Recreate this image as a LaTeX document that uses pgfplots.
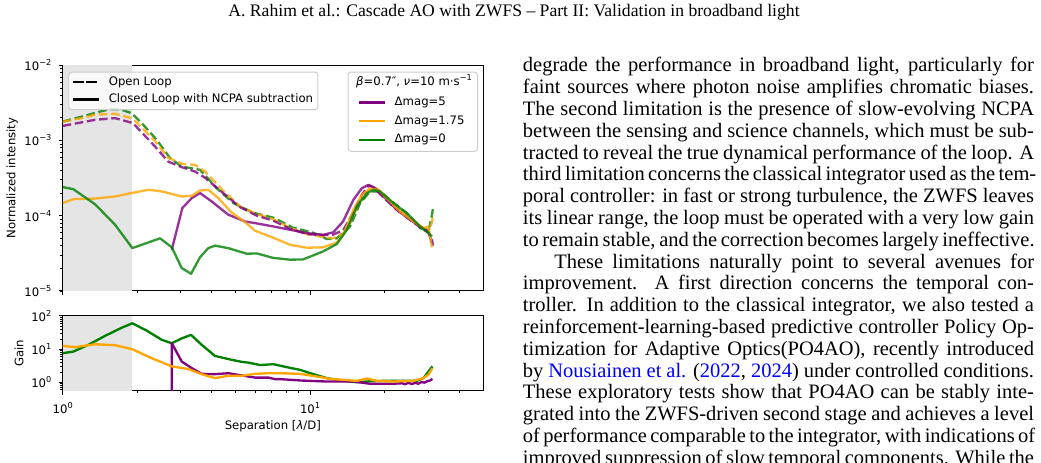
\documentclass[border=0pt]{standalone}
\usepackage{fontspec}
\setmainfont{Liberation Serif}
\newfontfamily\plotfont{DejaVu Sans}
\usepackage{pgfplots}
\pgfplotsset{compat=1.18}

\definecolor{mplpurple}{HTML}{800080}
\definecolor{mplorange}{HTML}{FFA500}
\definecolor{mplgreen}{HTML}{008000}
\definecolor{shade}{HTML}{E5E5E5}
\definecolor{legframe}{HTML}{CCCCCC}
\definecolor{linkblue}{HTML}{0000FF}

% page position helper: (x, y) measured from the top-left corner, 0.488pt per unit
\newcommand{\pp}[2]{({#1*0.488pt},{(463-#2)*0.488pt})}
\newcommand{\pf}{\plotfont\fontsize{5.7}{6.8}\selectfont}
\newcommand{\sups}[1]{\raisebox{2.5pt}{\fontsize{4}{4}\selectfont #1}}
\newcommand{\ten}[1]{10\sups{#1}}
\newcommand{\colw}{249.4pt}

\tikzset{
  curve/.style={line width=1.14pt, line join=round},
  ol/.style={line width=1.14pt, line join=round, dash pattern=on 4.2pt off 1.8pt},
}

\begin{document}
\begin{tikzpicture}
\useasboundingbox (0,0) rectangle (508pt,225.9pt);

% running head
\node[anchor=base,inner sep=0pt] at \pp{514}{17} {\fontsize{8.6}{10}\selectfont A. Rahim et al.: Cascade AO with ZWFS – Part II: Validation in broadband light};

% ---------------- upper panel: normalized intensity ----------------
\begin{axis}[
  scale only axis, width=205.1pt, height=110.14pt,
  at={(30.6pt,194.08pt)}, anchor=north west,
  xmode=log, ymode=log, xmin=1, xmax=50, ymin=1e-5, ymax=1e-2,
  axis line style={line width=0.46pt},
  tick align=outside, xtick pos=bottom, ytick pos=left,
  major tick length=2pt, minor tick length=1.15pt,
  every tick/.style={line width=0.46pt, black},
  every minor tick/.style={line width=0.34pt, black},
  xtick={1,10}, minor xtick={2,3,4,5,6,7,8,9,20,30,40},
  ytick={1e-5,1e-4,1e-3,1e-2},
  yticklabels={\ten{−5},\ten{−4},\ten{−3},\ten{−2}},
  minor ytick={},
  xticklabels={{},{}},
  tick label style={font=\pf},
  ylabel={Normalized intensity},
  ylabel style={font=\pf, at={(rel axis cs:0,0.5)}, anchor=center, yshift=24.7pt},
  legend cell align=left,
  legend image code/.code={\draw[#1, line cap=rect] (0pt,0pt) -- (11.4pt,0pt);},
  legend style={font=\pf, draw=legframe, line width=0.46pt, rounded corners=1.5pt,
    fill=white, fill opacity=0.8, text opacity=1,
    inner xsep=2.3pt, inner ysep=2.2pt, row sep=2.95pt, column sep=4.7pt,
    nodes={inner sep=0pt, text height=4.3pt, text depth=1.2pt},
    at={(0.0133,0.9716)}, anchor=north west},
]
\addplot[fill=shade, draw=none, forget plot] coordinates {(1,1e-5) (1.9,1e-5) (1.9,1e-2) (1,1e-2)};

% open loop (dashed)
\addplot[ol, mplgreen, opacity=0.8, forget plot] coordinates {
(1.0,1.78e-3) (1.211,2.1e-3) (1.415,2.42e-3) (1.553,2.6e-3) (1.705,2.6e-3)
(1.901,2.3e-3) (2.118,1.61e-3) (2.399,1.02e-3) (2.716,5.82e-4) (3.029,4.5e-4)
(3.591,4.07e-4) (4.195,2.32e-4) (4.896,1.47e-4) (5.898,1.09e-4) (7.106,9.4e-5)
(8.561,6.9e-5) (10.31,5.93e-5) (11.68,4.9e-5) (12.82,5.0e-5) (14.52,7.19e-5)
(15.93,1.47e-4) (17.48,2.1e-4) (19.19,2.1e-4) (21.4,1.544e-4) (24.6,1.08e-4)
(27.85,6.84e-5) (30.1,6.2e-5) (31.06,1.0e-4) (31.4,1.27e-4)};
\addplot[ol, mplorange, opacity=0.8, forget plot] coordinates {
(1.0,1.77e-3) (1.211,2.0e-3) (1.351,2.2e-3) (1.627,2.26e-3) (1.924,1.95e-3)
(2.362,9.8e-4) (2.666,5.9e-4) (3.029,4.9e-4) (3.427,4.74e-4) (3.762,3.86e-4)
(4.448,2.15e-4) (5.212,1.33e-4) (6.089,1.05e-4) (7.086,9.0e-5) (8.3,6.9e-5)
(9.698,5.7e-5) (11.29,5.2e-5) (12.39,5.0e-5) (13.6,5.8e-5) (14.52,8.0e-5)
(15.93,1.6e-4) (17.48,2.25e-4) (18.6,2.3e-4) (20.4,1.75e-4) (23.1,1.2e-4)
(26.2,8.4e-5) (28.7,6.8e-5) (30.1,6.4e-5) (31.06,8.0e-5) (31.4,1.0e-4)};
\addplot[ol, mplpurple, opacity=0.8, forget plot] coordinates {
(1.0,1.56e-3) (1.351,1.88e-3) (1.627,1.98e-3) (1.924,1.70e-3) (2.362,8.3e-4)
(2.666,5.25e-4) (3.029,4.42e-4) (3.427,3.86e-4) (3.762,3.19e-4) (4.448,2.0e-4)
(5.212,1.3e-4) (6.089,1.0e-4) (7.086,8.6e-5) (8.3,6.7e-5) (9.698,5.7e-5)
(11.29,5.5e-5) (12.39,5.6e-5) (13.6,6.4e-5) (14.97,1.1e-4) (16.19,1.9e-4)
(17.21,2.5e-4) (18.0,2.4e-4) (19.79,1.75e-4) (22.4,1.2e-4) (25.4,8.8e-5)
(27.85,7.0e-5) (30.1,5.9e-5) (31.06,4.8e-5) (31.4,4.0e-5)};

% closed loop with NCPA subtraction (solid)
\addplot[curve, mplpurple, opacity=0.8, forget plot] coordinates {
(2.760,3.52e-5) (3.045,1.262e-4) (3.324,1.713e-4) (3.591,2.0e-4) (4.004,1.544e-4)
(4.673,1.03e-4) (5.46,8.37e-5) (5.994,7.97e-5) (7.086,7.2e-5) (8.3,6.5e-5)
(9.698,5.87e-5) (11.29,5.57e-5) (12.4,6.0e-5) (13.6,8.4e-5) (14.97,1.63e-4)
(16.19,2.32e-4) (17.21,2.57e-4) (18.32,2.32e-4) (19.79,1.8e-4) (22.42,1.2e-4)
(25.37,8.8e-5) (27.85,7.2e-5) (30.1,6.17e-5) (31.06,4.33e-5)};
\addplot[curve, mplorange, opacity=0.8, forget plot] coordinates {
(1.0,1.47e-4) (1.104,1.66e-4) (1.351,1.69e-4) (1.627,1.80e-4) (1.901,2.0e-4)
(2.219,2.21e-4) (2.514,2.10e-4) (3.029,1.80e-4) (3.324,1.84e-4) (3.591,2.16e-4)
(3.88,2.21e-4) (4.258,1.71e-4) (4.823,1.1e-4) (5.46,8.2e-5) (5.994,6.3e-5)
(7.086,5.1e-5) (8.3,4.1e-5) (9.698,3.75e-5) (11.29,3.8e-5) (12.82,4.4e-5)
(13.62,5.6e-5) (14.97,1.2e-4) (16.19,1.9e-4) (17.48,2.3e-4) (18.89,2.2e-4)
(20.43,1.7e-4) (23.12,1.13e-4) (26.16,8.4e-5) (28.72,6.8e-5) (30.1,7.2e-5)
(31.06,3.8e-5)};
\addplot[curve, mplgreen, opacity=0.8, forget plot] coordinates {
(1.0,2.4e-4) (1.104,2.25e-4) (1.351,1.42e-4) (1.627,7.6e-5) (1.912,3.71e-5)
(2.475,5.0e-5) (2.760,3.8e-5) (3.029,2.01e-5) (3.303,1.69e-5) (3.591,2.8e-5)
(3.88,3.71e-5) (4.129,4.0e-5) (4.673,3.7e-5) (5.546,3.12e-5) (6.089,3.15e-5)
(7.086,2.75e-5) (8.3,2.6e-5) (9.37,2.62e-5) (11.29,3.35e-5) (12.82,4.2e-5)
(14.08,6.5e-5) (15.45,1.33e-4) (16.96,2.0e-4) (18.03,2.21e-4) (19.19,2.10e-4)
(21.72,1.47e-4) (24.6,1.08e-4) (27.85,7.2e-5) (29.65,6.17e-5) (31.06,5.3e-5)};

\addlegendimage{ol, black}
\addlegendentry{Open Loop}
\addlegendimage{curve, black}
\addlegendentry{Closed Loop with NCPA subtraction}
\end{axis}

% second legend of the upper panel (colour key; its first row holds the title)
\begin{axis}[
  scale only axis, width=205.1pt, height=110.14pt,
  at={(30.6pt,194.08pt)}, anchor=north west,
  xmode=log, ymode=log, xmin=1, xmax=50, ymin=1e-5, ymax=1e-2,
  hide axis,
  legend cell align=left,
  legend image code/.code={\draw[#1, line cap=rect] (0pt,0pt) -- (11.4pt,0pt);},
  legend style={font=\pf, draw=legframe, line width=0.46pt, rounded corners=1.5pt,
    fill=white, fill opacity=0.8, text opacity=1,
    inner xsep=5.5pt, inner ysep=2.95pt, row sep=3.6pt, column sep=4.7pt,
    nodes={inner sep=0pt, text height=4.3pt, text depth=1.2pt},
    at={(0.9881,0.9716)}, anchor=north east},
]
\addlegendimage{empty legend}
\addlegendentry{\rule{34.9pt}{0pt}}
\addlegendimage{curve, mplpurple}
\addlegendentry{Δmag=5}
\addlegendimage{curve, mplorange}
\addlegendentry{Δmag=1.75}
\addlegendimage{curve, mplgreen}
\addlegendentry{Δmag=0}
\end{axis}
\node[anchor=base west, inner sep=0pt, font=\pf] at \pp{355.7}{86}
  {\textit{β}=0.7″, \textit{ν}=10 m·s\sups{−1}};

% ---------------- lower panel: gain ----------------
\begin{axis}[
  scale only axis, width=205.1pt, height=36.6pt,
  at={(30.6pt,71.74pt)}, anchor=north west,
  xmode=log, ymode=log, xmin=1, xmax=50, ymin=0.547, ymax=100,
  axis line style={line width=0.46pt},
  tick align=outside, xtick pos=bottom, ytick pos=left,
  major tick length=2pt, minor tick length=1.15pt,
  every tick/.style={line width=0.46pt, black},
  every minor tick/.style={line width=0.34pt, black},
  xtick={1,10}, minor xtick={2,3,4,5,6,7,8,9,20,30,40},
  ytick={1,10,100},
  yticklabels={\ten{0},\ten{1},\ten{2}},
  minor ytick={0.6,0.7,0.8,0.9,2,3,4,5,6,7,8,9,20,30,40,50,60,70,80,90},
  xticklabels={\ten{0},\ten{1}},
  tick label style={font=\pf},
  xlabel={Separation [\textit{λ}/D]},
  xlabel style={font=\pf, at={(rel axis cs:0.5,0)}, anchor=center, yshift=-17.3pt},
  ylabel={Gain},
  ylabel style={font=\pf, at={(rel axis cs:0,0.5)}, anchor=center, yshift=21.3pt},
]
\addplot[fill=shade, draw=none, forget plot] coordinates {(1,0.547) (1.9,0.547) (1.9,100) (1,100)};
\addplot[curve, mplgreen] coordinates {
(1.0,7.5) (1.104,8.4) (1.269,13.4) (1.483,25) (1.732,44) (1.912,60) (2.186,36)
(2.514,19) (2.760,15) (3.029,21) (3.303,26.8) (3.648,13.4) (4.129,6.2) (4.673,5.0)
(5.295,4.1) (5.629,3.9) (6.28,3.3) (7.106,3.5) (8.05,2.85) (9.112,2.36) (10,1.88)
(11.68,1.33) (13.62,1.1) (15.45,1.0) (17.48,1.07) (19.79,1.1) (23.12,1.1)
(27.01,1.1) (28.72,1.33) (30.10,2.1) (31.23,3.0)};
\addplot[curve, mplpurple] coordinates {
(2.755,0.01) (2.760,15) (3.029,4.2) (3.324,2.66) (3.648,1.79) (4.129,1.75)
(4.673,1.87) (5.295,1.6) (5.994,1.38) (6.783,1.38) (7.219,1.24) (7.563,1.24)
(9.112,1.13) (11.68,1.05) (14.97,1.05) (17.48,0.9) (21.72,0.9) (23.5,0.93)
(24.2,0.87) (25.0,0.96) (25.8,0.88) (26.6,0.97) (27.4,0.9) (28.2,1.02) (29.0,0.97)
(29.8,1.08) (30.5,1.12) (31.23,1.26)};
\addplot[curve, mplorange] coordinates {
(1.0,12.5) (1.121,11.4) (1.351,14) (1.627,13.1) (1.912,9.9) (2.291,5.3) (2.760,3.0)
(3.220,2.5) (3.648,1.75) (4.129,1.33) (4.673,1.56) (5.295,1.56) (5.994,1.79)
(6.783,1.87) (7.563,1.87) (9.112,1.79) (10.64,1.49) (12.05,1.26) (14.08,1.16)
(15.45,1.1) (16.96,1.29) (18.61,1.1) (21.72,1.05) (26.16,1.1) (28.72,1.33)
(30.10,1.7) (31.23,2.65)};
\end{axis}

% ---------------- body text, right column ----------------
\begin{scope}[every node/.style={anchor=base west, inner sep=0pt, font=\fontsize{10}{10.6}\selectfont}]
\node at \pp{522.5}{72.0}  {\makebox[\colw][s]{degrade the performance in broadband light, particularly for}};
\node at \pp{522.5}{93.8}  {\makebox[\colw][s]{faint sources where photon noise amplifies chromatic biases.}};
\node at \pp{522.5}{115.6} {\makebox[\colw][s]{The second limitation is the presence of slow-evolving NCPA}};
\node at \pp{522.5}{137.4} {\makebox[\colw][s]{between the sensing and science channels, which must be sub-}};
\node at \pp{522.5}{159.2} {\makebox[\colw][s]{tracted to reveal the true dynamical performance of the loop. A}};
\node at \pp{522.5}{181.0} {\makebox[\colw][s]{third limitation concerns the classical integrator used as the tem-}};
\node at \pp{522.5}{202.8} {\makebox[\colw][s]{poral controller: in fast or strong turbulence, the ZWFS leaves}};
\node at \pp{522.5}{224.6} {\makebox[\colw][s]{its linear range, the loop must be operated with a very low gain}};
\node at \pp{522.5}{246.4} {\makebox[\colw][s]{to remain stable, and the correction becomes largely ineffective.}};
\node at \pp{553.9}{268.2} {\makebox[234.1pt][s]{These limitations naturally point to several avenues for}};
\node at \pp{522.5}{290.0} {\makebox[\colw][s]{improvement. A first direction concerns the temporal con-}};
\node at \pp{522.5}{311.8} {\makebox[\colw][s]{troller. In addition to the classical integrator, we also tested a}};
\node at \pp{522.5}{333.6} {\makebox[\colw][s]{reinforcement-learning-based predictive controller Policy Op-}};
\node at \pp{522.5}{355.4} {\makebox[\colw][s]{timization for Adaptive Optics(PO4AO), recently introduced}};
\node at \pp{522.5}{377.2} {\makebox[\colw][s]{by \textcolor{linkblue}{Nousiainen et al.} (\textcolor{linkblue}{2022}, \textcolor{linkblue}{2024}) under controlled conditions.}};
\node at \pp{522.5}{399.0} {\makebox[\colw][s]{These exploratory tests show that PO4AO can be stably inte-}};
\node at \pp{522.5}{420.8} {\makebox[\colw][s]{grated into the ZWFS-driven second stage and achieves a level}};
\node at \pp{522.5}{442.6} {\makebox[\colw][s]{of performance comparable to the integrator, with indications of}};
\node at \pp{522.5}{464.4} {\makebox[\colw][s]{improved suppression of slow temporal components. While the}};
\end{scope}
\end{tikzpicture}
\end{document}
